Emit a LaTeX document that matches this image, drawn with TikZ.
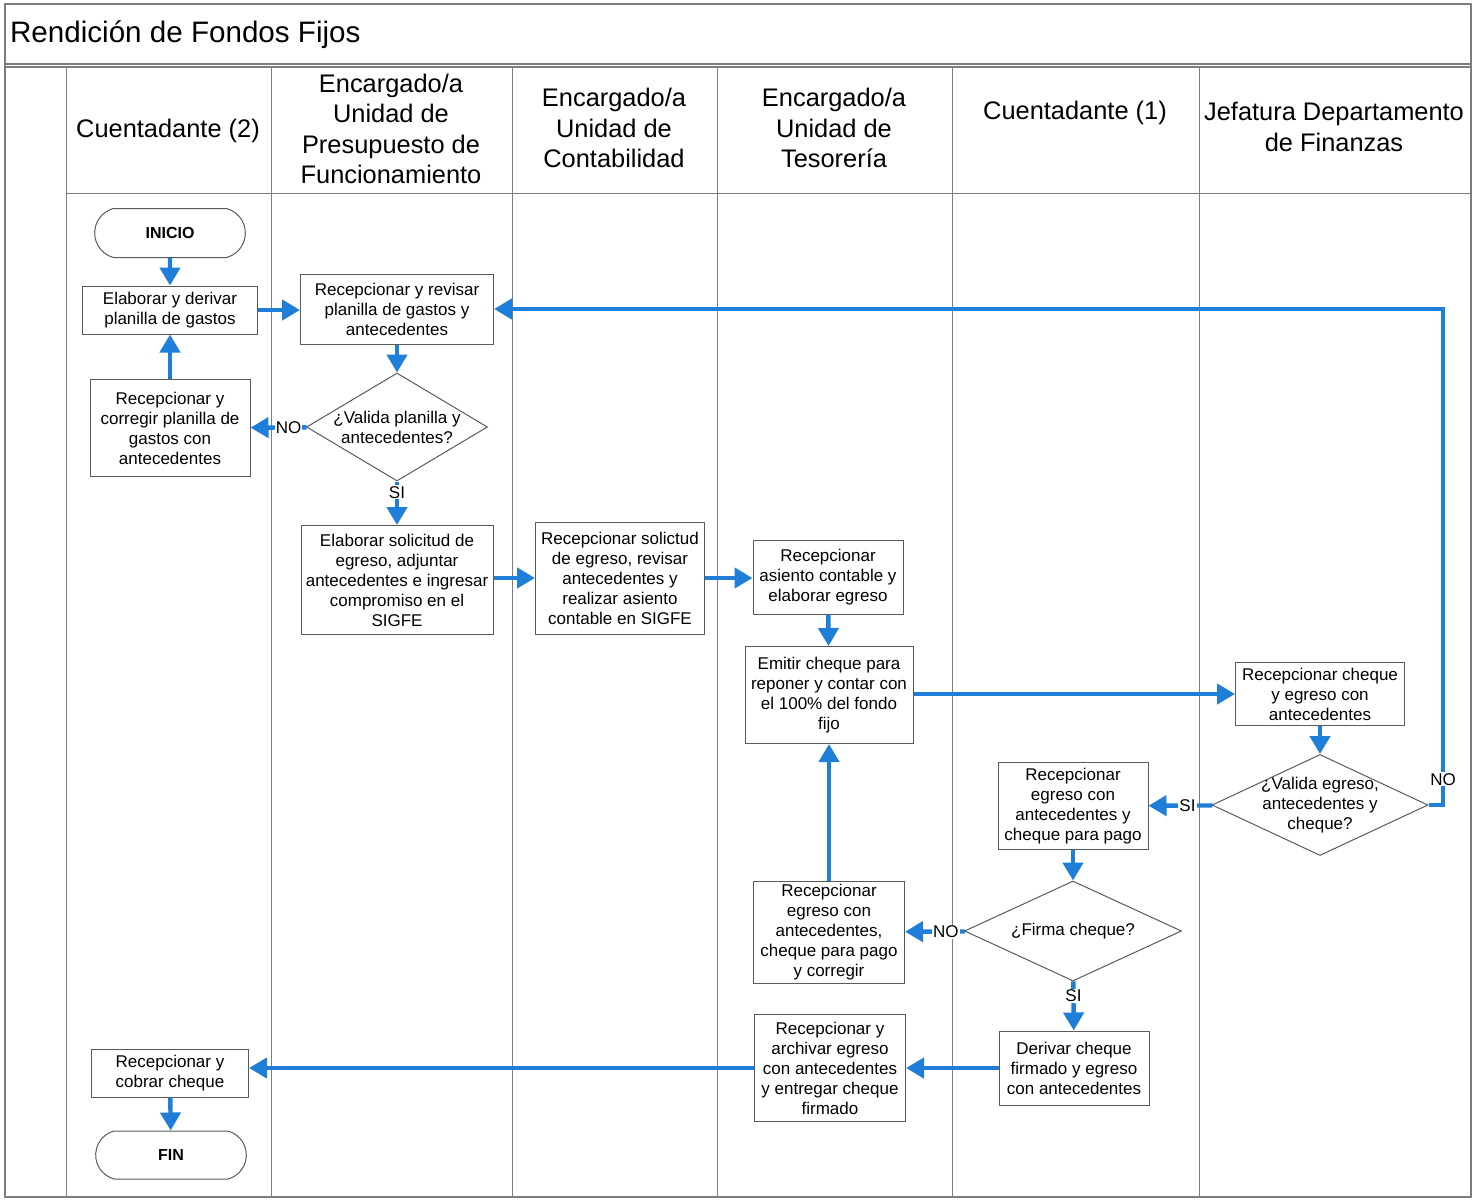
\documentclass[tikz,border=0pt]{standalone}
\usepackage{fontspec}
\setmainfont{Liberation Sans}
\usetikzlibrary{arrows.meta,shapes.geometric,shapes.misc}
\definecolor{flujo}{RGB}{30,126,216}
\definecolor{marco}{RGB}{125,125,125}
\definecolor{borde}{RGB}{90,90,90}

\begin{document}
\begin{tikzpicture}[x=0.5pt, y=-0.5pt,
  caja/.style={draw=borde, line width=0.5pt, fill=white, align=center, inner sep=1pt, font=\fontsize{8.5}{10}\selectfont},
  rombo/.style={draw=borde, line width=0.5pt, fill=white, shape=diamond, aspect=2, align=center, inner xsep=-15pt, inner ysep=-5pt, font=\fontsize{8.5}{10}\selectfont},
  terminal/.style={draw=borde, line width=0.5pt, fill=white, rounded rectangle, rounded rectangle arc length=150, font=\bfseries\fontsize{8}{10}\selectfont},
  carril/.style={align=center, font=\fontsize{12.7}{15.2}\selectfont},
  flecha/.style={draw=flujo, line width=2.2pt, -{Triangle[length=9pt,width=10pt]}},
  etiq/.style={fill=white, inner sep=0.5pt, font=\fontsize{8.5}{10}\selectfont}]
\useasboundingbox (0,0) rectangle (1482,1199);
% marco y carriles
\draw[marco, line width=0.6pt] (5,4) rectangle (1471,1197);
\draw[marco, line width=0.8pt] (5,64) -- (1471,64);
\draw[marco, line width=0.6pt] (5,67) -- (1471,67);
\draw[marco, line width=0.5pt] (66,193) -- (1471,193);
\foreach \x in {66,271,512,717,952,1199}
  \draw[marco, line width=0.5pt] (\x,67) -- (\x,1197);
\node[anchor=west, font=\fontsize{14.8}{17}\selectfont] (titulo) at (3,35) {Rendición de Fondos Fijos};
\node[carril] (c2) at (168,131) {Cuentadante (2)};
\node[carril] (pres) at (391,129) {Encargado/a\\Unidad de\\Presupuesto de\\Funcionamiento};
\node[carril] (cont) at (614,128) {Encargado/a\\Unidad de\\Contabilidad};
\node[carril] (tes) at (834,128) {Encargado/a\\Unidad de\\Tesorería};
\node[carril] (c1) at (1075,113) {Cuentadante (1)};
\node[carril] (jef) at (1334,127) {Jefatura Departamento\\de Finanzas};
% actividades
\node[terminal, minimum width=82pt, minimum height=24.5pt] (inicio) at (170,233) {INICIO};
\node[caja, minimum width=87.5pt, minimum height=24pt] (elab) at (170,310) {Elaborar y derivar\\planilla de gastos};
\node[caja, minimum width=80pt, minimum height=48.5pt] (corr) at (170,428) {Recepcionar y\\corregir planilla de\\gastos con\\antecedentes};
\node[caja, minimum width=96.5pt, minimum height=35pt] (rev) at (397,309) {Recepcionar y revisar\\planilla de gastos y\\antecedentes};
\node[rombo, minimum width=90.5pt, minimum height=54pt] (valpla) at (397,427) {¿Valida planilla y\\antecedentes?};
\node[caja, minimum width=96pt, minimum height=54.5pt] (sol) at (397,580) {Elaborar solicitud de\\egreso, adjuntar\\antecedentes e ingresar\\compromiso en el\\SIGFE};
\node[caja, minimum width=84.5pt, minimum height=56pt] (recsol) at (620,578) {Recepcionar solictud\\de egreso, revisar\\antecedentes y\\realizar asiento\\contable en SIGFE};
\node[caja, minimum width=75pt, minimum height=37pt] (asi) at (828,577) {Recepcionar\\asiento contable y\\elaborar egreso};
\node[caja, minimum width=84pt, minimum height=48.5pt] (emi) at (829,695) {Emitir cheque para\\reponer y contar con\\el 100\% del fondo\\fijo};
\node[caja, minimum width=84.5pt, minimum height=31.5pt] (reccheq) at (1320,694) {Recepcionar cheque\\y egreso con\\antecedentes};
\node[rombo, minimum width=108pt, minimum height=50.5pt] (valegr) at (1320,805) {¿Valida egreso,\\antecedentes y\\cheque?};
\node[caja, minimum width=75pt, minimum height=43.5pt] (recegr) at (1073,806) {Recepcionar\\egreso con\\antecedentes y\\cheque para pago};
\node[rombo, minimum width=108.5pt, minimum height=50pt] (firma) at (1073,931) {¿Firma cheque?};
\node[caja, minimum width=75.5pt, minimum height=51pt] (correg) at (829,932) {Recepcionar\\egreso con\\antecedentes,\\cheque para pago\\y corregir};
\node[caja, minimum width=75pt, minimum height=37pt] (deriv) at (1074,1068) {Derivar cheque\\firmado y egreso\\con antecedentes};
\node[caja, minimum width=75.5pt, minimum height=53.5pt] (arch) at (830,1068) {Recepcionar y\\archivar egreso\\con antecedentes\\y entregar cheque\\firmado};
\node[caja, minimum width=78.5pt, minimum height=24pt] (cobrar) at (170,1073) {Recepcionar y\\cobrar cheque};
\node[terminal, minimum width=82pt, minimum height=24pt] (fin) at (171,1155) {FIN};
\coordinate (retorno) at (1443,805);
% flujo
\draw[flecha] (inicio) -- (elab);
\draw[flecha] (elab.east) -- (elab.east -| rev.west);
\draw[flecha] (corr) -- (elab);
\draw[flecha] (rev) -- (valpla);
\draw[flecha] (valpla) -- node[etiq, pos=0.32] {NO} (corr);
\draw[flecha] (valpla) -- node[etiq, pos=0.25] {SI} (sol);
\draw[flecha] (recsol.west -| sol.east) -- (recsol.west);
\draw[flecha] (recsol.east) -- (recsol.east -| asi.west);
\draw[flecha] (asi) -- (emi);
\draw[flecha] (reccheq.west -| emi.east) -- (reccheq.west);
\draw[flecha] (reccheq) -- (valegr);
\draw[flecha] (valegr) -- node[etiq, pos=0.39] {SI} (recegr);
\draw[flecha] (valegr.east) -- (retorno) -- node[etiq, pos=0.052] {NO} (retorno |- rev.east) -- (rev.east);
\draw[flecha] (recegr) -- (firma);
\draw[flecha] (firma) -- node[etiq, pos=0.32] {NO} (correg);
\draw[flecha] (correg) -- (emi);
\draw[flecha] (firma) -- node[etiq, pos=0.3] {SI} (deriv);
\draw[flecha] (deriv) -- (arch);
\draw[flecha] (arch.west) -- (arch.west -| cobrar.east);
\draw[flecha] (cobrar) -- (fin);
\end{tikzpicture}
\end{document}
